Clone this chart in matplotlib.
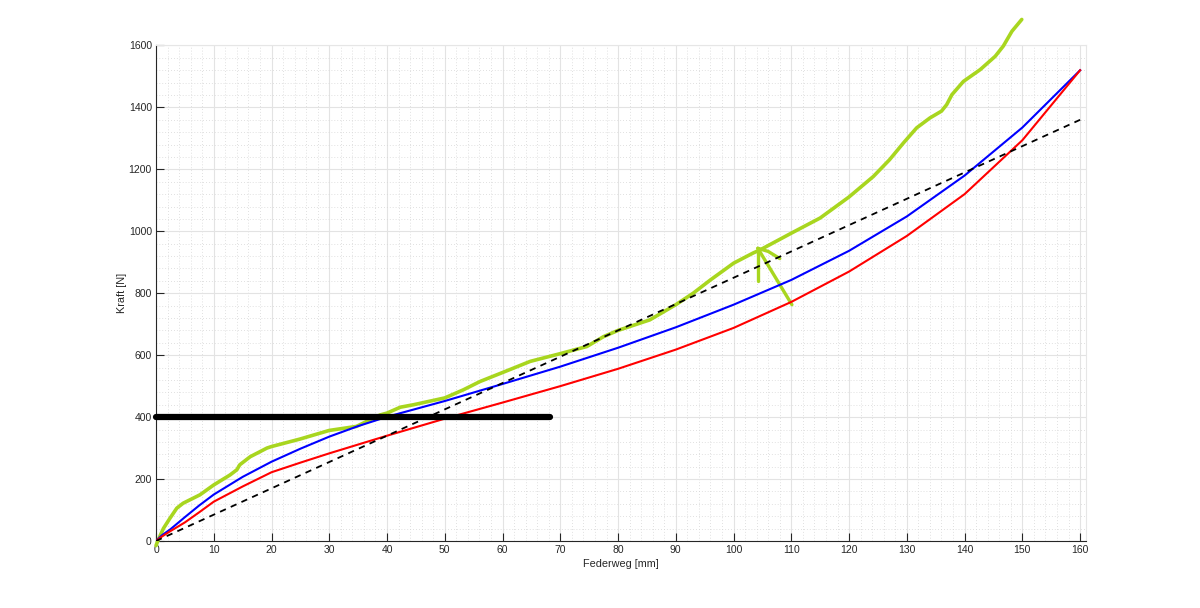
import matplotlib
matplotlib.use("Agg")
import matplotlib.pyplot as plt
import numpy as np

# ---- data ----
blue_x = [0, 1, 2.5, 5, 7.5, 10, 15, 20, 25, 30, 35, 40, 50, 60, 70, 80, 90, 100, 110, 120, 130, 140, 150, 160]
blue_y = [0, 18, 38, 77, 115, 150, 207, 256, 298, 337, 371, 401, 452, 507, 563, 624, 690, 763, 843, 937, 1048, 1180, 1335, 1520]

red_x = [0, 1, 2.5, 5, 7.5, 10, 15, 20, 25, 30, 40, 50, 60, 70, 80, 90, 100, 110, 120, 130, 140, 150, 160]
red_y = [0, 14, 32, 60, 93, 127, 176, 222, 253, 283, 340, 395, 447, 500, 556, 618, 688, 772, 870, 985, 1120, 1294, 1520]

dash_x = [0, 160]
dash_y = [0, 1360]

green_x = [0, 0.3, 1.3, 2.4, 3.6, 4.7, 7.6, 10, 12.8, 14, 14.5, 16.3, 19.2, 20, 24.9, 30, 34.7,
           38.8, 40, 42.3, 44.6, 50, 53.2, 56.1, 60, 64.8, 70, 74.6, 77.5, 80, 85.5, 90, 93, 96,
           100, 103.4, 104.6, 110, 115, 120, 124.2, 127, 129.4, 131.7, 134.0, 136.0, 136.9,
           137.8, 139.8, 142.7, 145.3, 146.7, 148.2, 149.9]
green_y = [-15, 0, 41, 73, 106, 122, 149, 181, 213, 230, 246, 272, 300, 305, 329, 357, 370,
           407, 413, 432, 440, 462, 488, 515, 544, 580, 605, 628, 660, 680, 714, 763, 800, 843,
           897, 930, 940, 994, 1043, 1111, 1177, 1231, 1285, 1334, 1366, 1388, 1409,
           1441, 1484, 1522, 1565, 1598, 1646, 1684]

# hand-drawn arrow (green)
arrow_shaft_x = [110.1, 104.2]
arrow_shaft_y = [763, 945]
arrow_vert_x = [104.2, 104.2]
arrow_vert_y = [838, 945]
arrow_head_x = [104.2, 106.0, 108.0]
arrow_head_y = [945, 935, 912]

# thick black horizontal line
hline_x = [0, 68.3]
hline_y = [400, 400]

xticks = list(range(0, 161, 10))
yticks = list(range(0, 1601, 200))

# ---- figure ----
plt.rcParams['font.family'] = ['Liberation Sans', 'DejaVu Sans']
fig = plt.figure(figsize=(12, 6.08), dpi=100)
ax = fig.add_axes([0.13, 0.1102, 0.7749, 0.8150])

ax.set_xlim(0, 161)
ax.set_ylim(0, 1600)
ax.set_xticks(xticks)
ax.set_yticks(yticks)
ax.set_xticks(np.arange(0, 161, 2), minor=True)
ax.set_yticks(np.arange(0, 1601, 40), minor=True)

ax.grid(True, which='major', color='#e3e3e3', linewidth=0.8, linestyle='-')
ax.grid(True, which='minor', color='#d6d6d6', linewidth=0.6, linestyle=(0, (1, 2.5)))
ax.set_axisbelow(True)

gcol = '#a8d61f'
ax.plot(green_x, green_y, color=gcol, linewidth=2.6, solid_capstyle='round',
        solid_joinstyle='round', clip_on=False, zorder=3)
ax.plot(arrow_shaft_x, arrow_shaft_y, color=gcol, linewidth=2.4, solid_capstyle='round', zorder=3)
ax.plot(arrow_vert_x, arrow_vert_y, color=gcol, linewidth=2.4, solid_capstyle='round', zorder=3)
ax.plot(arrow_head_x, arrow_head_y, color=gcol, linewidth=2.4, solid_capstyle='round', zorder=3)

ax.plot(blue_x, blue_y, color='#0000ff', linewidth=1.5, zorder=4, solid_joinstyle='round')
ax.plot(red_x, red_y, color='#ff0000', linewidth=1.5, zorder=4, solid_joinstyle='round')
ax.plot(dash_x, dash_y, color='black', linewidth=1.3, linestyle=(0, (3.5, 3)), zorder=4)
ax.plot(hline_x, hline_y, color='black', linewidth=4.5, solid_capstyle='round', clip_on=False, zorder=5)

for s in ['top', 'right']:
    ax.spines[s].set_color('#e6e6e6')
    ax.spines[s].set_linewidth(0.8)
for s in ['left', 'bottom']:
    ax.spines[s].set_color('#262626')
    ax.spines[s].set_linewidth(0.8)

ax.tick_params(which='major', direction='in', length=5.8, width=0.8, color='#262626',
               labelsize=7.5, labelcolor='#262626', top=False, right=False, pad=3)
ax.tick_params(which='minor', length=0, top=False, right=False)

ax.set_xlabel('Federweg [mm]', fontsize=7.8, color='#262626', labelpad=3)
ax.set_ylabel('Kraft [N]', fontsize=7.8, color='#262626')
ax.yaxis.set_label_coords(-0.031, 0.5)

fig.savefig('out.png', dpi=100)
